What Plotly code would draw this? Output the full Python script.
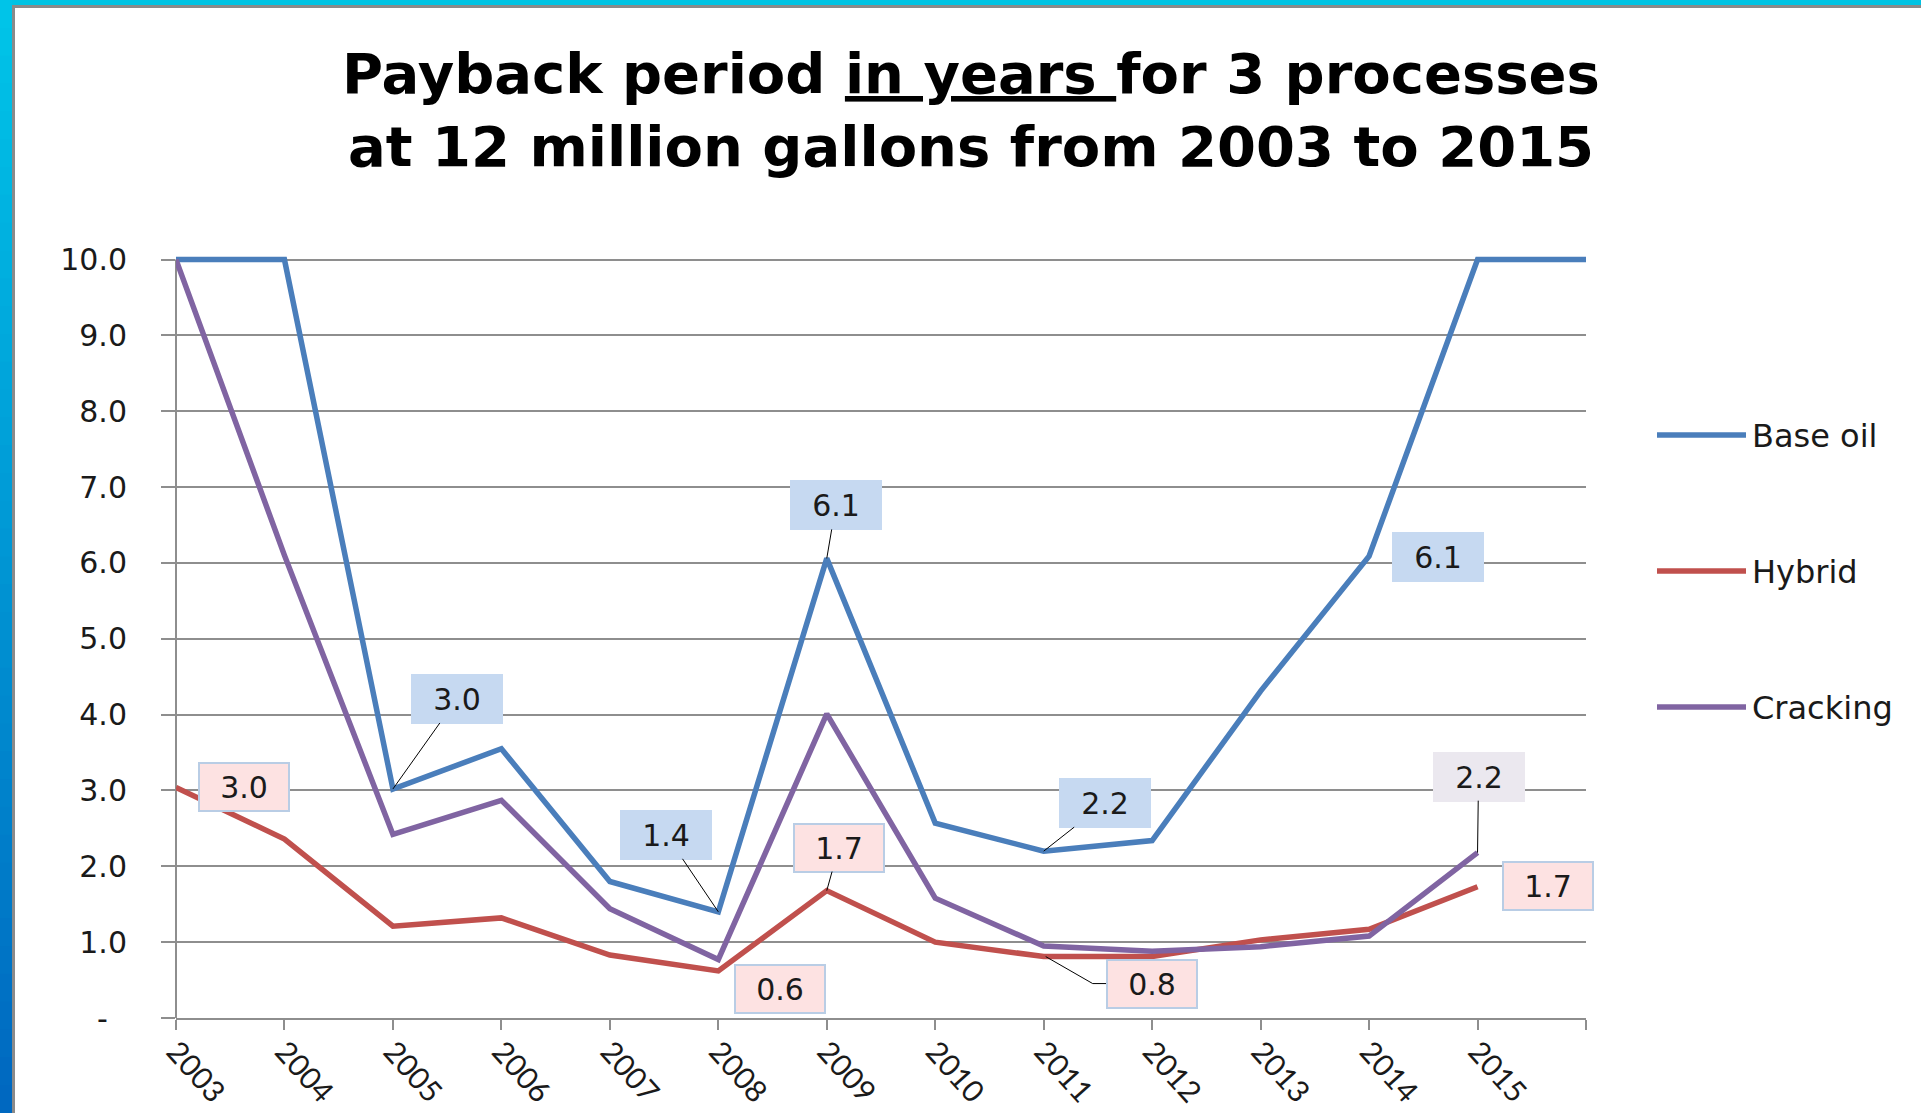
import plotly.graph_objects as go

# ---------------- data ----------------
years = [2003, 2004, 2005, 2006, 2007, 2008, 2009, 2010, 2011, 2012, 2013, 2014, 2015, 2016]
year_labels = ["2003", "2004", "2005", "2006", "2007", "2008", "2009",
               "2010", "2011", "2012", "2013", "2014", "2015", ""]
base_oil = [10.0, 10.0, 3.02, 3.55, 1.80, 1.40, 6.06, 2.57, 2.20, 2.34, 4.31, 6.09, 10.0, 10.0]
hybrid = [3.04, 2.36, 1.21, 1.32, 0.83, 0.62, 1.68, 1.00, 0.81, 0.81, 1.03, 1.17, 1.73, None]
cracking = [10.0, 6.10, 2.42, 2.87, 1.44, 0.77, 4.01, 1.58, 0.95, 0.88, 0.94, 1.08, 2.18, None]
series_names = ["Base oil", "Hybrid", "Cracking"]
y_tick_vals = [0, 1, 2, 3, 4, 5, 6, 7, 8, 9, 10]
y_tick_text = ["-\u00a0\u00a0", "1.0", "2.0", "3.0", "4.0", "5.0", "6.0", "7.0", "8.0", "9.0", "10.0"]

# ---------------- styling ----------------
W, H = 1921, 1113
L, R, T, B = 176, 335, 252, 95
PW, PH = W - L - R, H - T - B
colors = ["#4a7ebb", "#c0504d", "#8064a2"]
GRID = "#8e8e8e"
TXT = "#1a1a1a"


def pxx(xp):
    return (xp - L) / PW


def pxy(yp):
    return (H - B - yp) / PH


series = [base_oil, hybrid, cracking]

fig = go.Figure()
for name, vals, col in zip(series_names, series, colors):
    fig.add_trace(go.Scatter(x=years, y=vals, mode="lines", name=name,
                             line=dict(color=col, width=5.5), connectgaps=False,
                             showlegend=False))

shapes = []
annotations = []

# frame decoration (top strip + left gradient strip + grey rules)
shapes.append(dict(type="rect", xref="paper", yref="paper", x0=pxx(0), x1=pxx(W),
                   y0=pxy(0), y1=pxy(5), fillcolor="#00c3e3", line=dict(width=0), layer="above"))
nslices = 40
c0 = (0, 196, 232)
c1 = (0, 104, 192)
for i in range(nslices):
    t = i / (nslices - 1)
    c = tuple(int(round(a + (b - a) * t)) for a, b in zip(c0, c1))
    y0p = H * i / nslices
    y1p = H * (i + 1) / nslices + 1
    shapes.append(dict(type="rect", xref="paper", yref="paper", x0=pxx(0), x1=pxx(12),
                       y0=pxy(y0p), y1=pxy(y1p), fillcolor="rgb(%d,%d,%d)" % c,
                       line=dict(width=0), layer="above"))
shapes.append(dict(type="rect", xref="paper", yref="paper", x0=pxx(12), x1=pxx(W),
                   y0=pxy(5), y1=pxy(8), fillcolor="#8a8a8a", line=dict(width=0), layer="above"))
shapes.append(dict(type="rect", xref="paper", yref="paper", x0=pxx(12), x1=pxx(15),
                   y0=pxy(5), y1=pxy(H), fillcolor="#8a8a8a", line=dict(width=0), layer="above"))

# y axis line from 0 to 10
shapes.append(dict(type="line", xref="paper", yref="y", x0=0, x1=0, y0=0, y1=10,
                   line=dict(color=GRID, width=2), layer="below"))

# custom legend
legend_y = [435, 571, 707]
for name, col, ly in zip(series_names, colors, legend_y):
    shapes.append(dict(type="line", xref="paper", yref="paper", x0=pxx(1657), x1=pxx(1746),
                       y0=pxy(ly), y1=pxy(ly), line=dict(color=col, width=5.5)))
    annotations.append(dict(xref="paper", yref="paper", x=pxx(1750), y=pxy(ly + 1),
                            xanchor="left", yanchor="middle", showarrow=False, text=name,
                            font=dict(family="DejaVu Sans", size=32, color=TXT)))

# data labels: (series index, year, dx px, dy px (down positive), leader?)
box_style = [
    dict(bgcolor="#c6d9f1", bordercolor="#c6d9f1"),
    dict(bgcolor="#fde2e2", bordercolor="#b9cde5"),
    dict(bgcolor="#ebe8ef", bordercolor="#ebe8ef"),
]
label_specs = [
    (0, 2005, 64, -90, True),
    (0, 2008, -52, -77, True),
    (0, 2009, 9, -53, True),
    (0, 2011, 61, -48, True),
    (0, 2014, 69, 1, False),
    (1, 2003, 68, 0, False),
    (1, 2008, 62, 18, False),
    (1, 2009, 12, -43, True),
    (1, 2011, 108, 27, False),
    (1, 2015, 70, -1, False),
    (2, 2015, 1, -76, True),
]
for si, yr, dx, dy, leader in label_specs:
    v = series[si][years.index(yr)]
    common = dict(x=yr, y=v, xref="x", yref="y", text="%.1f" % v,
                  font=dict(family="DejaVu Sans", size=30, color=TXT),
                  width=86, height=44, borderpad=1, borderwidth=2,
                  align="center", valign="middle", **box_style[si])
    if leader:
        annotations.append(dict(showarrow=True, ax=dx, ay=dy, arrowhead=0, arrowwidth=1,
                                arrowcolor="#000000", standoff=0, **common))
    else:
        annotations.append(dict(showarrow=False, xshift=dx, yshift=-dy, **common))

# elbow leader for Hybrid 2011
shapes.append(dict(type="path", xref="x", yref="y", xsizemode="pixel", ysizemode="pixel",
                   xanchor=2011, yanchor=hybrid[years.index(2011)],
                   path="M 2,0 L 49,-27 L 64,-27", line=dict(color="#000000", width=1)))

fig.update_layout(
    width=W, height=H,
    margin=dict(l=L, r=R, t=T, b=B, autoexpand=False),
    paper_bgcolor="white", plot_bgcolor="white",
    title=dict(text="Payback period <u>in years </u>for 3 processes<br>at 12 million gallons from 2003 to 2015",
               font=dict(family="DejaVu Sans", size=56, color="#000000", weight="bold"),
               x=971 / W, xref="container", xanchor="center",
               y=1 - 93 / H, yref="container", yanchor="top"),
    showlegend=False,
    shapes=shapes,
    annotations=annotations,
    xaxis=dict(range=[2003, 2016], tickmode="array", tickvals=years, ticktext=year_labels,
               ticks="outside", ticklen=10, tickwidth=1.5, tickcolor=GRID,
               showline=True, linecolor=GRID, linewidth=2, showgrid=False, zeroline=False,
               tickangle=48, tickfont=dict(family="Lato", size=30, color=TXT),
               ticklabelstandoff=-8, automargin=False),
    yaxis=dict(range=[0, 10.1], tickmode="array", tickvals=y_tick_vals, ticktext=y_tick_text,
               ticks="outside", ticklen=14, tickwidth=1.5, tickcolor=GRID,
               showline=False, showgrid=True, gridcolor=GRID, gridwidth=1.5, zeroline=False,
               tickfont=dict(family="DejaVu Sans", size=30, color=TXT),
               ticklabelstandoff=28, automargin=False),
)

fig.write_html("out.html")
